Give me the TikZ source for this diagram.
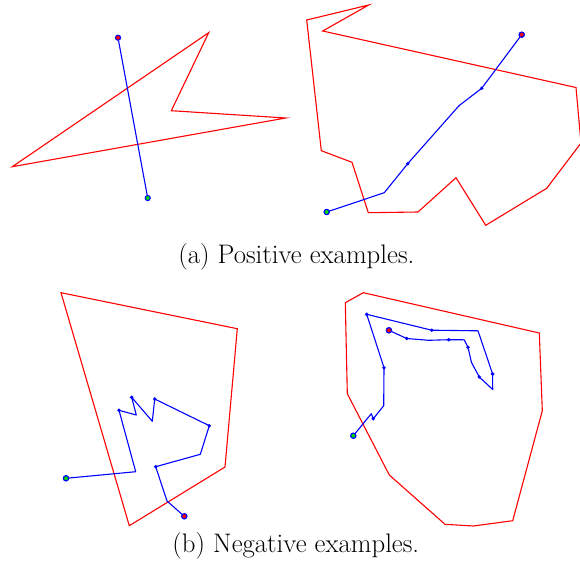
\documentclass[tikz,border=0pt]{standalone}
\begin{document}
\begin{tikzpicture}[x=1pt,y=-1pt,
  poly/.style={draw=red,line width=1.1pt,line join=miter},
  route/.style={draw=blue,line width=1.1pt,line join=round},
  vdot/.style={circle,fill=blue,inner sep=0pt,minimum size=3.8pt},
  startdot/.style={circle,draw=blue,fill=green!85!black,line width=1pt,inner sep=0pt,minimum size=5.2pt},
  enddot/.style={circle,draw=blue,fill=red,line width=1pt,inner sep=0pt,minimum size=5.2pt},
  captext/.style={anchor=base,inner sep=0pt,font=\fontsize{26.8}{32}\selectfont}]
\useasboundingbox (0,0) rectangle (580,565);
\clip (0,0) rectangle (580,565);

% ---------- (a) left ----------
\coordinate (a1) at (208.7,32.7);
\coordinate (a2) at (171.3,110.7);
\coordinate (a3) at (285.7,118);
\coordinate (a4) at (12.3,166.7);
\draw[poly] (a1) -- (a2) -- (a3) -- (a4) -- cycle;
\node[enddot] (ae) at (118,37.7) {};
\node[startdot] (as) at (147.7,198) {};
\draw[route] (as) -- (ae);

% ---------- (a) right ----------
\coordinate (b1) at (368.7,5);
\coordinate (b2) at (306.7,20);
\coordinate (b3) at (321.3,150.7);
\coordinate (b4) at (352,162.3);
\coordinate (b5) at (368.3,212.7);
\coordinate (b6) at (418,212);
\coordinate (b7) at (456,177.7);
\coordinate (b8) at (485.7,225.3);
\coordinate (b9) at (546.7,188.3);
\coordinate (b10) at (581,143);
\coordinate (b11) at (576,87.5);
\coordinate (b12) at (322.7,31);
\draw[poly] (b1) -- (b2) -- (b3) -- (b4) -- (b5) -- (b6) -- (b7) -- (b8) -- (b9) -- (b10) -- (b11) -- (b12) -- cycle;
\node[startdot] (bs) at (326.7,212) {};
\coordinate (bp1) at (384.3,192.7);
\node[vdot] (bp2) at (407.7,163.7) {};
\coordinate (bp3) at (459,105.7);
\node[vdot] (bp4) at (481.7,88.3) {};
\node[enddot] (be) at (521.7,34.7) {};
\draw[route] (bs.center) -- (bp1) -- (bp2.center) -- (bp3) -- (bp4.center) -- (be.center);
\node[startdot] at (bs) {};
\node[enddot] at (be) {};

% ---------- (b) left ----------
\coordinate (c1) at (61,292.7);
\coordinate (c2) at (237.3,328.7);
\coordinate (c3) at (225,467);
\coordinate (c4) at (129.3,525.7);
\draw[poly] (c1) -- (c2) -- (c3) -- (c4) -- cycle;
\node[startdot] (cs) at (66,478.3) {};
\coordinate (cp1) at (135.7,471.7);
\node[vdot] (cp2) at (119,410.3) {};
\coordinate (cp3) at (136.3,415);
\node[vdot] (cp4) at (131.7,397.3) {};
\coordinate (cp5) at (152.3,421.3);
\node[vdot] (cp6) at (154.7,399) {};
\node[vdot] (cp7) at (209.3,425.7) {};
\coordinate (cp8) at (200.3,454.3);
\node[vdot] (cp9) at (155.7,466.7) {};
\coordinate (cp10) at (167,501);
\node[enddot] (ce) at (184.3,516.3) {};
\draw[route] (cs.center) -- (cp1) -- (cp2.center) -- (cp3) -- (cp4.center) -- (cp5) -- (cp6.center) -- (cp7.center) -- (cp8) -- (cp9.center) -- (cp10) -- (ce.center);
\node[startdot] at (cs) {};
\node[enddot] at (ce) {};

% ---------- (b) right ----------
\coordinate (d1) at (363.3,292.7);
\coordinate (d2) at (539.3,333);
\coordinate (d3) at (542.3,410.7);
\coordinate (d4) at (512.7,520.7);
\coordinate (d5) at (473.3,526);
\coordinate (d6) at (445,524.3);
\coordinate (d7) at (389.3,475);
\coordinate (d8) at (347.3,393.7);
\coordinate (d9) at (345.3,302.7);
\draw[poly] (d1) -- (d2) -- (d3) -- (d4) -- (d5) -- (d6) -- (d7) -- (d8) -- (d9) -- cycle;
\node[startdot] (ds) at (353.3,435.7) {};
\coordinate (dp1) at (371.3,413.7);
\node[vdot] (dp2) at (373.3,418.7) {};
\coordinate (dp3) at (383.7,405.7);
\node[vdot] (dp4) at (384,367.7) {};
\node[vdot] (dp5) at (366.7,314.3) {};
\node[vdot] (dp6) at (431.7,330.2) {};
\coordinate (dp7) at (478,330.8);
\node[vdot] (dp8) at (492.6,374) {};
\coordinate (dp9) at (492.7,389.5);
\node[vdot] (dp10) at (479.3,377) {};
\coordinate (dp11) at (471.5,362.5);
\node[vdot] (dp12) at (468,347.3) {};
\coordinate (dp13) at (464.2,339.8);
\node[vdot] (dp14) at (448.7,339.7) {};
\coordinate (dp15) at (428.8,340.3);
\node[vdot] (dp16) at (406.7,338.5) {};
\node[enddot] (de) at (388.9,330.3) {};
\draw[route] (ds.center) -- (dp1) -- (dp2.center) -- (dp3) -- (dp4.center) -- (dp5.center) -- (dp6.center) -- (dp7) -- (dp8.center) -- (dp9) -- (dp10.center) -- (dp11) -- (dp12.center) -- (dp13) -- (dp14.center) -- (dp15) -- (dp16.center) -- (de.center);
\node[startdot] at (ds) {};
\node[enddot] at (de) {};

% ---------- captions ----------
\node[captext] (capa) at (296.3,263.5) {(a) Positive examples.};
\node[captext] (capb) at (295.8,552.7) {(b) Negative examples.};
\end{tikzpicture}
\end{document}
